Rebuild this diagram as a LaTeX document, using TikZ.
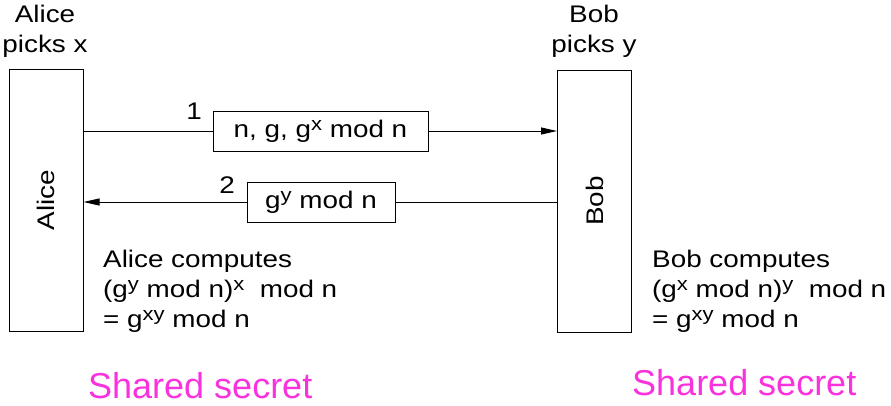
\documentclass[tikz,border=0pt]{standalone}
\usepackage{fontspec}
\setmainfont{Liberation Sans}[FakeStretch=1.16]
\newfontfamily\plainsans{Liberation Sans}
\usetikzlibrary{arrows.meta}
\definecolor{secretpink}{RGB}{250,50,222}
\newcommand{\sps}[1]{\raisebox{0.55ex}{\fontsize{19}{19}\selectfont #1}}
\tikzset{
  party/.style={draw, line width=1pt, minimum width=74pt, minimum height=262pt, inner sep=0pt, font=\fontsize{24}{27}\selectfont},
  msgbox/.style={draw, line width=1pt, minimum height=40pt, inner sep=0pt, font=\fontsize{24}{27}\selectfont},
  txt/.style={font=\fontsize{24}{30}\selectfont, inner sep=0pt},
  secret/.style={font=\plainsans\fontsize{36}{40}\selectfont, text=secretpink, inner sep=0pt},
  msg/.style={line width=1pt},
  tip/.style={-{Triangle[length=16pt,width=7pt]}}
}
\begin{document}
\begin{tikzpicture}[x=1pt,y=-1pt]
\useasboundingbox (0,0) rectangle (891,405);
\node[party] (alice) at (46,200) {\rotatebox{90}{Alice}};
\node[party] (bob) at (594.5,201) {\rotatebox{90}{Bob}};
\node[txt, align=center] (apick) at (45,31) {Alice\\picks x};
\node[txt, align=center] (bpick) at (594,31) {Bob\\picks y};
\node[msgbox, minimum width=215pt] (m1) at (320.5,131) {n, g, g\sps{x} mod n};
\node[msgbox, minimum width=148pt] (m2) at (321,202) {g\sps{y} mod n};
\node[txt] (l1) at (194,111) {1};
\node[txt] (l2) at (227,185) {2};
\draw[msg] (alice.east |- m1.west) -- (m1.west);
\draw[msg, tip] (m1.east) -- (bob.west |- m1.east);
\draw[msg] (bob.west |- m2.east) -- (m2.east);
\draw[msg, tip] (m2.west) -- (alice.east |- m2.west);
\node[txt, align=left, anchor=north west] (acomp) at (103,250) {Alice computes\\(g\sps{y} mod n)\sps{x}\ \ mod n\\= g\sps{xy} mod n};
\node[txt, align=left, anchor=north west] (bcomp) at (652,250) {Bob computes\\(g\sps{x} mod n)\sps{y}\ \ mod n\\= g\sps{xy} mod n};
\node[secret, anchor=west] (as) at (88,386) {Shared secret};
\node[secret, anchor=west] (bs) at (632,383) {Shared secret};
\end{tikzpicture}
\end{document}
